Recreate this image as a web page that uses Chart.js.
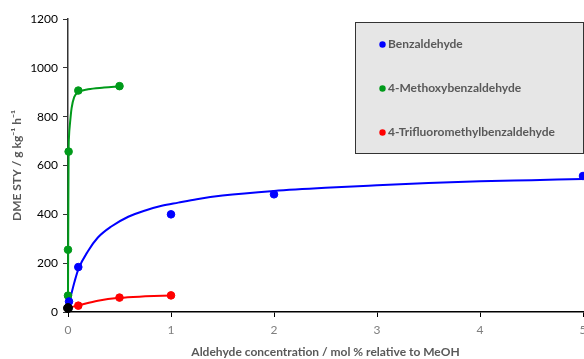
<!DOCTYPE html>
<html>
<head>
<meta charset="utf-8">
<script src="https://cdn.jsdelivr.net/npm/chart.js@4"></script>
<style>
  html, body { margin: 0; padding: 0; background: #fff; }
  #wrap { width: 584px; height: 359px; }
</style>
</head>
<body>
<div id="wrap"><canvas id="myChart" width="584" height="359"></canvas></div>
<script>
const seriesNames = ['Benzaldehyde', '4-Methoxybenzaldehyde', '4-Trifluoromethylbenzaldehyde'];
const seriesColors = ['#0000ff', '#009a1a', '#ff0000'];

// measured points
const benzX = [0.01, 0.1, 1, 2, 5];
const benzY = [43, 184, 400, 482, 557];
const methX = [0, 0, 0.006, 0.1, 0.5];
const methY = [67, 255, 657, 907, 925];
const cf3X = [0.1, 0.5, 1];
const cf3Y = [26, 59, 68];
const blankX = [0];
const blankY = [16];

// fitted curves
const benzFitX = [0, 0.016, 0.064, 0.1, 0.195, 0.29, 0.42, 0.585, 0.75, 0.91, 1.07, 1.25, 1.5, 2, 2.5, 3, 3.5, 4, 4.5, 5];
const benzFitY = [20, 46, 125, 175, 250, 305, 350, 390, 416, 435, 448, 462, 477, 496, 509, 519, 528, 535, 540, 545];
const methFitX = [0, 0.003, 0.006, 0.01, 0.02, 0.035, 0.06, 0.1, 0.195, 0.35, 0.5];
const methFitY = [60, 400, 657, 720, 775, 835, 880, 900, 912, 919, 924];
const cf3FitX = [0, 0.1, 0.29, 0.5, 0.75, 1];
const cf3FitY = [17, 27, 46, 58, 64, 68];

const yTicks = [0, 200, 400, 600, 800, 1000, 1200];
const xTicks = [0, 1, 2, 3, 4, 5];

const pts = (xs, ys) => xs.map((x, i) => ({ x: x, y: ys[i] }));

function fitLine(xs, ys, color) {
    return {
        data: pts(xs, ys),
        showLine: true,
        borderColor: color,
        borderWidth: 2,
        pointRadius: 0,
        cubicInterpolationMode: 'monotone',
        clip: false,
        order: 5
    };
}

function marks(xs, ys, color, name, r) {
    return {
        label: name,
        data: pts(xs, ys),
        showLine: false,
        backgroundColor: color,
        borderColor: color,
        pointRadius: r,
        pointHoverRadius: r,
        clip: false,
        order: 1
    };
}

const boxLegend = {
    id: 'boxLegend',
    afterDraw(chart) {
        const ctx = chart.ctx;
        ctx.save();
        ctx.fillStyle = '#e6e6e6';
        ctx.fillRect(355.5, 22.5, 228, 131);
        ctx.strokeStyle = '#333';
        ctx.lineWidth = 1;
        ctx.strokeRect(355.5, 22.5, 228, 131);
        ctx.font = 'bold 12px Lato';
        ctx.textBaseline = 'middle';
        seriesNames.forEach((name, i) => {
            const y = 44.5 + i * 44;
            ctx.fillStyle = seriesColors[i];
            ctx.beginPath();
            ctx.arc(382.5, y, 3.2, 0, Math.PI * 2);
            ctx.fill();
            ctx.fillStyle = '#595959';
            ctx.fillText(name, 388, y);
        });
        ctx.restore();
    }
};

const config = {
    type: 'scatter',
    data: {
        datasets: [
            fitLine(benzFitX, benzFitY, seriesColors[0]),
            fitLine(methFitX, methFitY, seriesColors[1]),
            fitLine(cf3FitX, cf3FitY, seriesColors[2]),
            marks(benzX, benzY, seriesColors[0], seriesNames[0], 3.8),
            marks(methX, methY, seriesColors[1], seriesNames[1], 3.8),
            marks(cf3X, cf3Y, seriesColors[2], seriesNames[2], 3.8),
            Object.assign(marks(blankX, blankY, '#000', 'blank', 4.5), { order: 0 })
        ]
    },
    options: {
        responsive: false,
        animation: false,
        layout: { autoPadding: false, padding: { top: 19, right: 1, left: 0, bottom: 0 } },
        plugins: {
            legend: { display: false },
            tooltip: { enabled: false }
        },
        scales: {
            x: {
                type: 'linear',
                min: 0,
                max: 5,
                afterBuildTicks: (s) => { s.ticks = xTicks.map(v => ({ value: v })); },
                afterFit: (s) => { s.height = 47; s.paddingLeft = 0; s.paddingRight = 0; },
                border: { display: true, color: '#000', width: 1.5 },
                grid: { drawOnChartArea: false, drawTicks: true, tickLength: 5, color: '#000' },
                ticks: { color: '#7f7f7f', font: { family: 'Lato', size: 12 }, padding: 6, callback: (v) => String(v) },
                title: {
                    display: true,
                    text: 'Aldehyde concentration / mol % relative to MeOH',
                    color: '#595959',
                    font: { family: 'Lato', size: 12, weight: 'bold' },
                    padding: { top: 6, bottom: 0 }
                }
            },
            y: {
                min: 0,
                max: 1200,
                afterBuildTicks: (s) => { s.ticks = yTicks.map(v => ({ value: v })); },
                afterFit: (s) => { s.width = 68; s.paddingTop = 0; s.paddingBottom = 0; },
                border: { display: true, color: '#333', width: 1.5 },
                grid: { drawOnChartArea: false, drawTicks: true, tickLength: 5, color: '#333' },
                ticks: { color: '#000', font: { family: 'Lato', size: 12 }, padding: 5, callback: (v) => String(v) },
                title: {
                    display: true,
                    text: 'DME STY / g kg⁻¹ h⁻¹',
                    color: '#595959',
                    font: { family: 'Lato', size: 12, weight: 'bold' },
                    padding: { top: 10, bottom: 0 }
                }
            }
        }
    },
    plugins: [boxLegend]
};

const myChart = new Chart(document.getElementById('myChart'), config);
</script>
</body>
</html>
